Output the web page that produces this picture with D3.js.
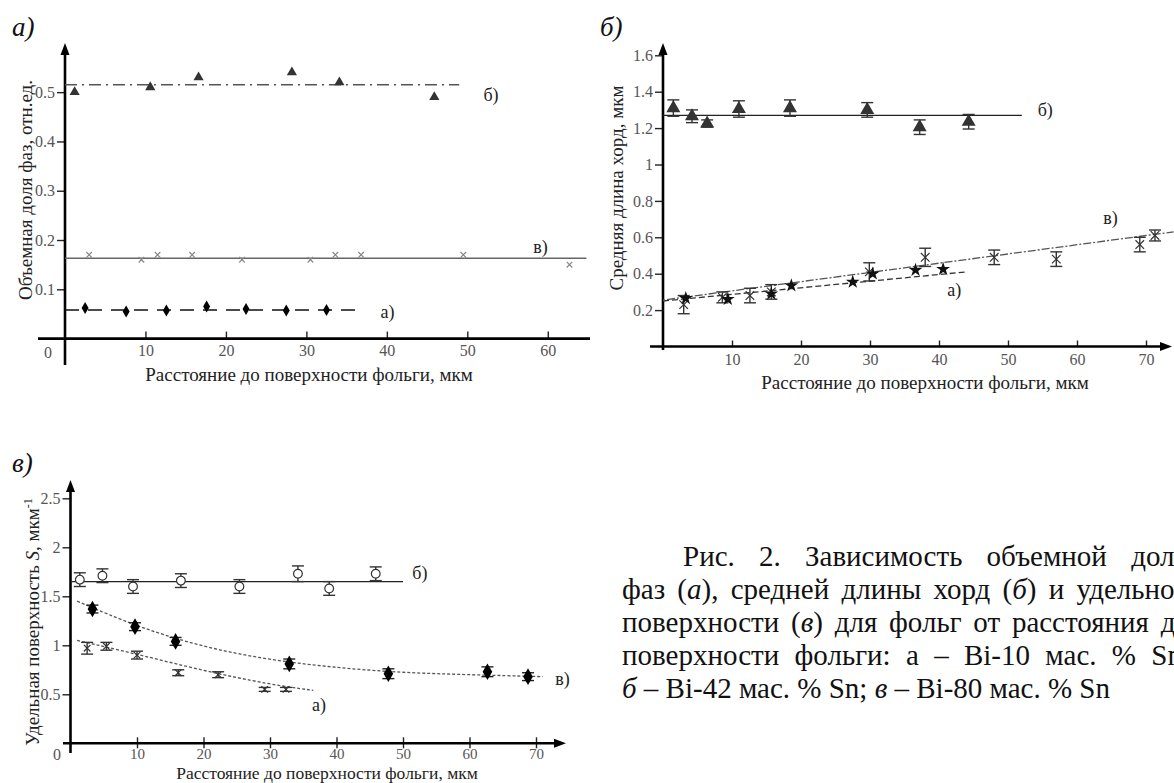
<!DOCTYPE html>
<meta charset="utf-8">
<html>
<head>
<style>
  body { margin: 0; background: #fff; }
  svg text { font-family: "Liberation Serif", "Times New Roman", serif; }
</style>
</head>
<body>
<div id="chart"></div>
<script src="https://d3js.org/d3.v7.min.js"></script>
<script>
var SERIF = '"Liberation Serif", "Times New Roman", serif'

// ---------- panel а) : volume fraction of phases ----------
var aTriX   = [1.2, 10.6, 16.6, 28.2, 34.1, 45.9]
var aTriY   = [0.50, 0.51, 0.53, 0.54, 0.52, 0.49]
var aCrossX = [3.0, 9.5, 11.5, 15.8, 22.0, 30.5, 33.6, 36.8, 49.5, 62.7]
var aCrossY = [0.17, 0.16, 0.17, 0.17, 0.16, 0.16, 0.17, 0.17, 0.17, 0.15]
var aDiaX   = [2.5, 7.6, 12.6, 17.6, 22.5, 27.5, 32.5]
var aDiaY   = [0.062, 0.055, 0.057, 0.065, 0.060, 0.057, 0.058]
var aFitB   = [[0, 0.515], [49, 0.515]]
var aFitV   = [[0, 0.163], [64.8, 0.163]]
var aFitA   = [[0, 0.058], [37, 0.058]]
var aXTicks = [10, 20, 30, 40, 50, 60]
var aYTicks = [0.1, 0.2, 0.3, 0.4, 0.5]

// ---------- panel б) : mean chord length ----------
var bTriX   = [1.5, 4.2, 6.4, 11.0, 18.4, 29.6, 37.2, 44.3]
var bTriY   = [1.31, 1.265, 1.225, 1.305, 1.31, 1.30, 1.205, 1.235]
var bTriE   = [0.045, 0.035, 0.02, 0.045, 0.045, 0.04, 0.04, 0.04]
var bStarX  = [3.3, 9.4, 15.7, 18.6, 27.5, 30.4, 36.6, 40.6]
var bStarY  = [0.265, 0.26, 0.29, 0.335, 0.355, 0.40, 0.42, 0.425]
var bZhX    = [3.0, 8.6, 12.6, 15.7, 29.9, 38.0, 48.0, 57.0, 69.1, 71.3]
var bZhY    = [0.23, 0.27, 0.28, 0.30, 0.41, 0.49, 0.49, 0.48, 0.56, 0.61]
var bZhE    = [0.05, 0.03, 0.04, 0.04, 0.05, 0.05, 0.04, 0.04, 0.04, 0.03]
var bFitB   = [[0, 1.27], [52, 1.27]]
var bFitA   = [[0, 0.25], [44, 0.41]]
var bFitV   = [[0, 0.255], [74, 0.63]]
var bXTicks = [10, 20, 30, 40, 50, 60, 70]
var bYTicks = [0.2, 0.4, 0.6, 0.8, 1, 1.2, 1.4, 1.6]

// ---------- panel в) : specific surface ----------
var cCircX  = [1.4, 4.8, 9.4, 16.6, 25.4, 34.2, 38.9, 45.9]
var cCircY  = [1.67, 1.71, 1.60, 1.66, 1.60, 1.73, 1.58, 1.73]
var cCircE  = [0.07, 0.07, 0.07, 0.07, 0.07, 0.08, 0.07, 0.07]
var cDiaX   = [3.3, 9.7, 15.8, 32.9, 47.8, 62.7, 68.8]
var cDiaY   = [1.37, 1.19, 1.04, 0.81, 0.71, 0.73, 0.68]
var cDiaE   = [0.04, 0.04, 0.04, 0.05, 0.05, 0.05, 0.04]
var cCrossX = [2.5, 5.4, 10.0, 16.2, 22.2, 29.2, 32.4]
var cCrossY = [0.97, 0.99, 0.90, 0.72, 0.70, 0.55, 0.55]
var cCrossE = [0.06, 0.04, 0.04, 0.03, 0.03, 0.02, 0.02]
var cFitB   = [[0, 1.65], [50, 1.65]]
var cFitV   = [[1, 1.45], [10, 1.19], [20, 0.98], [30, 0.85], [40, 0.77], [50, 0.72], [60, 0.70], [71, 0.68]]
var cFitA   = [[1, 1.05], [10, 0.91], [20, 0.74], [30, 0.60], [36.5, 0.54]]
var cXTicks = [10, 20, 30, 40, 50, 60, 70]
var cYTicks = [0.5, 1, 1.5, 2, 2.5]

var xTitle = "Расстояние до поверхности фольги, мкм"

// caption lines: [text, italic]
var caption = [
  [["Рис. 2. Зависимость объемной доли", false]],
  [["фаз (", false], ["а", true], ["), средней длины хорд (", false], ["б", true], [") и удельной", false]],
  [["поверхности (", false], ["в", true], [") для фольг от расстояния до", false]],
  [["поверхности фольги: а – Bi-10 мас. % Sn;", false]],
  [["б", true], [" – Bi-42 мас. % Sn; ", false], ["в", true], [" – Bi-80 мас. % Sn", false]]
]

var svg = d3.select("#chart").append("svg")
    .attr("width", 1174)
    .attr("height", 783)
    .style("font-family", SERIF)

function pts(xs, ys, es) {
  return xs.map(function(x, i) { return {x: x, y: ys[i], e: es ? es[i] : 0} })
}

// axes drawn as in the scanned figure: thick lines, arrow on y (and some x)
function frame(x, y, o) {
  var g = svg.append("g")
  var x0 = x(0), y0 = y(0)
  var fmt = d3.format("~g")

  var ya = g.append("g").attr("transform", "translate(" + x0 + ",0)")
    .call(d3.axisLeft(y).tickValues(o.yTicks).tickSize(8).tickPadding(2).tickFormat(fmt))
  ya.select(".domain").remove()
  ya.selectAll(".tick line").attr("stroke", "#222").attr("stroke-width", 1.4)

  var xa = g.append("g").attr("transform", "translate(0," + y0 + ")")
    .call(d3.axisBottom(x).tickValues(o.xTicks).tickSize(o.tickDown).tickPadding(o.xPad).tickFormat(fmt))
  xa.select(".domain").remove()
  xa.selectAll(".tick line").attr("y1", -o.tickUp).attr("stroke", "#222").attr("stroke-width", 1.4)

  g.selectAll("g").attr("font-family", null)
  g.selectAll(".tick text")
    .style("font-family", SERIF)
    .style("font-size", "16px")
    .attr("fill", "#555")
  if (o.xFont) xa.selectAll(".tick text").style("font-size", o.xFont + "px")

  // main axis lines
  g.append("line")
    .attr("x1", x0).attr("x2", x0)
    .attr("y1", o.yTop + 6).attr("y2", o.yBottom)
    .attr("stroke", "#000").attr("stroke-width", 2.6)
  g.append("path")
    .attr("d", "M" + (x0 - 4.5) + "," + (o.yTop + 12) + "L" + x0 + "," + o.yTop + "L" + (x0 + 4.5) + "," + (o.yTop + 12) + "Z")
  g.append("line")
    .attr("x1", o.xLeft).attr("x2", o.xRight - (o.xArrow ? 6 : 0))
    .attr("y1", y0).attr("y2", y0)
    .attr("stroke", "#000").attr("stroke-width", 2.6)
  if (o.xArrow) {
    g.append("path")
      .attr("d", "M" + (o.xRight - 12) + "," + (y0 - 4.5) + "L" + o.xRight + "," + y0 + "L" + (o.xRight - 12) + "," + (y0 + 4.5) + "Z")
  }
  if (o.zero) {
    g.append("text")
      .attr("x", o.zero[0]).attr("y", o.zero[1])
      .attr("text-anchor", "middle").attr("dy", "0.35em")
      .style("font-family", SERIF)
      .style("font-size", "16px").attr("fill", "#555")
      .text("0")
  }
  return g
}

function fitLine(g, x, y, data, dash, color, curve) {
  g.append("path")
    .datum(data)
    .attr("fill", "none")
    .attr("stroke", color)
    .attr("stroke-width", 1.3)
    .attr("stroke-dasharray", dash)
    .attr("d", d3.line()
      .x(function(d) { return x(d[0]) })
      .y(function(d) { return y(d[1]) })
      .curve(curve || d3.curveLinear))
}

function errBars(g, x, y, data, cap, color) {
  var eb = g.append("g").attr("stroke", color).attr("stroke-width", 1.4)
  data.forEach(function(d) {
    var cx = x(d.x), t = y(d.y + d.e), b = y(d.y - d.e)
    eb.append("line").attr("x1", cx).attr("x2", cx).attr("y1", t).attr("y2", b)
    eb.append("line").attr("x1", cx - cap).attr("x2", cx + cap).attr("y1", t).attr("y2", t)
    eb.append("line").attr("x1", cx - cap).attr("x2", cx + cap).attr("y1", b).attr("y2", b)
  })
}

function symbols(g, x, y, data, type, size, fill, stroke) {
  g.selectAll(null)
    .data(data)
    .enter()
    .append("path")
      .attr("transform", function(d) { return "translate(" + x(d.x) + "," + y(d.y) + ")" })
      .attr("d", d3.symbol().type(type).size(size))
      .attr("fill", fill)
      .attr("stroke", stroke || "none")
      .attr("stroke-width", 1.2)
}

function label(g, x, y, pos, txt, size) {
  g.append("text")
    .attr("x", x(pos[0])).attr("y", y(pos[1]))
    .attr("dy", "0.35em")
    .style("font-family", SERIF)
    .style("font-size", (size || 18) + "px")
    .attr("fill", "#222")
    .text(txt)
}

function yTitle(cx, cy, parts) {
  var t = svg.append("text")
    .attr("transform", "translate(" + cx + "," + cy + ") rotate(-90)")
    .attr("text-anchor", "middle")
    .attr("dy", "0.35em")
    .style("font-family", SERIF)
    .style("font-size", "19px")
    .attr("fill", "#222")
  parts.forEach(function(p) {
    var s = t.append("tspan").text(p[0])
    if (p[1] === "i") s.style("font-style", "italic")
    if (p[1] === "sup") s.attr("baseline-shift", "super").style("font-size", "12px")
  })
}

function xTitleAt(cx, cy, size) {
  svg.append("text")
    .attr("x", cx).attr("y", cy)
    .attr("text-anchor", "middle")
    .attr("dy", "0.35em")
    .style("font-family", SERIF)
    .style("font-size", (size || 19) + "px")
    .attr("fill", "#222")
    .text(xTitle)
}

function panelTitle(x, y, txt) {
  svg.append("text")
    .attr("x", x).attr("y", y)
    .style("font-family", SERIF)
    .style("font-size", "27px")
    .style("font-style", "italic")
    .attr("fill", "#111")
    .text(txt)
}

// ================= panel а) =================
var ax = d3.scaleLinear().domain([0, 65]).range([65, 588])
var ay = d3.scaleLinear().domain([0, 0.55]).range([338.6, 67.5])
var ga = frame(ax, ay, {xTicks: aXTicks, yTicks: aYTicks, tickDown: 0, tickUp: 7, xPad: 6,
                        yTop: 43, yBottom: 365, xLeft: 38, xRight: 590, xArrow: false, zero: [48, 352]})

fitLine(ga, ax, ay, aFitB, "12,5,2,5", "#555")
fitLine(ga, ax, ay, aFitV, null, "#666")
fitLine(ga, ax, ay, aFitA, "14,9", "#111")
symbols(ga, ax, ay, pts(aTriX, aTriY), d3.symbolTriangle, 45, "#333")
symbols(ga, ax, ay, pts(aCrossX, aCrossY), d3.symbolTimes || d3.symbolCross, 22, "none", "#888")
symbols(ga, ax, ay, pts(aDiaX, aDiaY), d3.symbolDiamond, 42, "#000")
label(ga, ax, ay, [52, 0.494], "б)")
label(ga, ax, ay, [58.2, 0.186], "в)")
label(ga, ax, ay, [39.2, 0.054], "а)")

panelTitle(12, 36, "а)")
yTitle(25, 190, [["Объемная доля фаз, отн.ед."]])
xTitleAt(309, 374)

// ================= panel б) =================
var bx = d3.scaleLinear().domain([0, 70]).range([663, 1146])
var by = d3.scaleLinear().domain([0, 1.6]).range([346.5, 55.3])
var gb = frame(bx, by, {xTicks: bXTicks, yTicks: bYTicks, tickDown: 0, tickUp: 6, xPad: 7,
                        yTop: 43, yBottom: 350, xLeft: 650, xRight: 1172, xArrow: true})

fitLine(gb, bx, by, bFitB, null, "#222")
fitLine(gb, bx, by, bFitA, "6,3", "#333")
fitLine(gb, bx, by, bFitV, "2,2,8,2", "#555")
errBars(gb, bx, by, pts(bTriX, bTriY, bTriE), 6, "#333")
symbols(gb, bx, by, pts(bTriX, bTriY), d3.symbolTriangle, 85, "#333")
errBars(gb, bx, by, pts(bZhX, bZhY, bZhE), 6, "#333")
symbols(gb, bx, by, pts(bZhX, bZhY), d3.symbolTimes || d3.symbolCross, 50, "none", "#333")
symbols(gb, bx, by, pts(bStarX, bStarY), d3.symbolStar, 60, "#111")
label(gb, bx, by, [54.3, 1.30], "б)")
label(gb, bx, by, [63.8, 0.71], "в)")
label(gb, bx, by, [41.2, 0.31], "а)")

panelTitle(600, 36, "б)")
yTitle(616, 188, [["Средняя длина хорд, мкм"]])
xTitleAt(925, 382)

// ================= panel в) =================
var cx = d3.scaleLinear().domain([0, 70]).range([70.5, 536])
var cy = d3.scaleLinear().domain([0, 2.5]).range([743.3, 498.3])
var gc = frame(cx, cy, {xTicks: cXTicks, yTicks: cYTicks, tickDown: 5, tickUp: 6, xPad: 0, xFont: 15,
                        yTop: 480, yBottom: 753, xLeft: 63, xRight: 566, xArrow: true, zero: [57, 754]})

fitLine(gc, cx, cy, cFitB, null, "#222")
fitLine(gc, cx, cy, cFitV, "3,2", "#555", d3.curveBasis)
fitLine(gc, cx, cy, cFitA, "3,2", "#555", d3.curveBasis)
errBars(gc, cx, cy, pts(cCircX, cCircY, cCircE), 6, "#333")
symbols(gc, cx, cy, pts(cCircX, cCircY), d3.symbolCircle, 60, "#fff", "#333")
errBars(gc, cx, cy, pts(cDiaX, cDiaY, cDiaE), 6, "#222")
symbols(gc, cx, cy, pts(cDiaX, cDiaY), d3.symbolDiamond, 80, "#000")
errBars(gc, cx, cy, pts(cCrossX, cCrossY, cCrossE), 6, "#333")
symbols(gc, cx, cy, pts(cCrossX, cCrossY), d3.symbolTimes || d3.symbolCross, 30, "none", "#333")
label(gc, cx, cy, [51.4, 1.74], "б)")
label(gc, cx, cy, [72.9, 0.66], "в)")
label(gc, cx, cy, [36.3, 0.39], "а)")

panelTitle(12, 472, "в)")
yTitle(32, 622, [["Удельная поверхность "], ["S", "i"], [", мкм"], ["-1", "sup"]])
xTitleAt(327, 773, 17.5)

// ================= caption =================
var capLeft = 622, capIndent = 683, capRight = 1190, capTop = 566, capStep = 33
caption.forEach(function(line, i) {
  var t = svg.append("text")
    .attr("x", i === 0 ? capIndent : capLeft)
    .attr("y", capTop + i * capStep)
    .style("font-family", SERIF)
    .style("font-size", "29px")
    .attr("fill", "#111")
  line.forEach(function(p) {
    var s = t.append("tspan").text(p[0])
    if (p[1]) s.style("font-style", "italic")
  })
  // justify every line except the last one (the page runs past the right edge)
  if (i < caption.length - 1) {
    var full = line.map(function(p) { return p[0] }).join("")
    var gaps = full.split(" ").length - 1
    var w = t.node().getComputedTextLength()
    var start = i === 0 ? capIndent : capLeft
    t.style("word-spacing", ((capRight - start - w) / gaps) + "px")
  }
})
</script>
</body>
</html>
